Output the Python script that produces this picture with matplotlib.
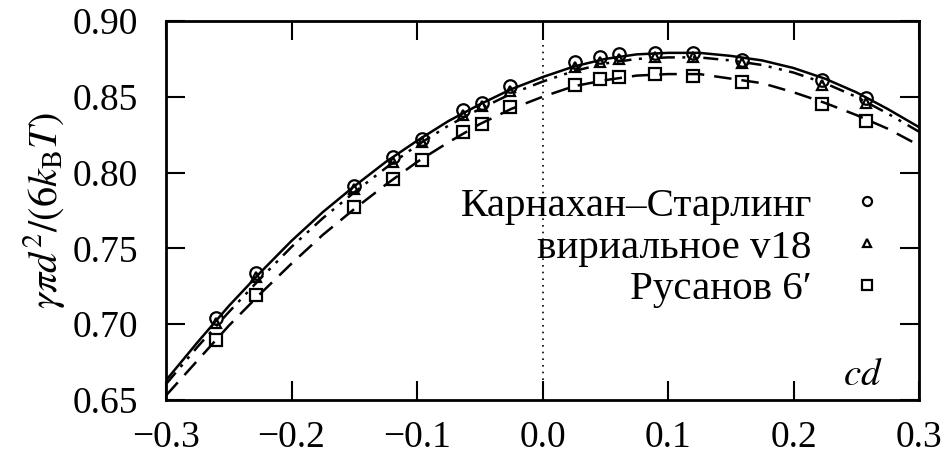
import matplotlib
matplotlib.use("Agg")
import matplotlib.pyplot as plt
from matplotlib.lines import Line2D

plt.rcParams['font.family'] = ['Liberation Serif', 'DejaVu Serif']
plt.rcParams['mathtext.fontset'] = 'stix'

# points
pt_x = [-0.260, -0.228, -0.150, -0.119, -0.096, -0.063, -0.048, -0.026,
        0.026, 0.046, 0.061, 0.090, 0.120, 0.159, 0.223, 0.258]
cs_y = [0.704, 0.734, 0.7915, 0.810, 0.822, 0.841, 0.846, 0.857,
        0.873, 0.876, 0.878, 0.879, 0.879, 0.874, 0.861, 0.849]
vir_y = [0.701, 0.731, 0.789, 0.807, 0.820, 0.838, 0.844, 0.854,
         0.870, 0.873, 0.875, 0.876, 0.876, 0.872, 0.858, 0.846]
rus_y = [0.6895, 0.7195, 0.777, 0.796, 0.8085, 0.827, 0.832, 0.843,
         0.858, 0.8615, 0.863, 0.865, 0.864, 0.860, 0.8455, 0.834]

# curves
cx = [-0.300, -0.275, -0.250, -0.225, -0.200, -0.175, -0.150, -0.125, -0.100,
      -0.075, -0.050, -0.025, 0.000, 0.025, 0.050, 0.075, 0.100, 0.125,
      0.150, 0.175, 0.200, 0.225, 0.250, 0.275, 0.300]
cs_curve = [0.663, 0.688, 0.712, 0.734, 0.755, 0.774, 0.791, 0.807, 0.821,
            0.834, 0.845, 0.855, 0.863, 0.870, 0.875, 0.878, 0.879, 0.879,
            0.877, 0.874, 0.869, 0.862, 0.853, 0.842, 0.830]
vir_curve = [0.6605, 0.685, 0.708, 0.730, 0.751, 0.770, 0.787, 0.803, 0.818,
             0.831, 0.842, 0.852, 0.860, 0.867, 0.872, 0.875, 0.876, 0.876,
             0.874, 0.871, 0.866, 0.859, 0.850, 0.839, 0.827]
rus_curve = [0.653, 0.676, 0.699, 0.720, 0.740, 0.759, 0.776, 0.792, 0.807,
             0.820, 0.832, 0.842, 0.850, 0.857, 0.861, 0.864, 0.865, 0.865,
             0.862, 0.859, 0.853, 0.846, 0.838, 0.829, 0.818]

labels = ['Карнахан–Старлинг', 'вириальное v18', 'Русанов 6′']

fig = plt.figure(figsize=(9.45, 4.59), dpi=100)
ax = fig.add_axes([0.1757, 0.1285, 0.7968, 0.8257])

ax.axvline(0.0, color='black', lw=1.2, ls=(0, (1, 3)))

ax.plot(cx, cs_curve, color='black', lw=1.8, ls='-')
ax.plot(cx, vir_curve, color='black', lw=1.8, ls=(0, (6, 3, 1.2, 3, 1.2, 3)))
ax.plot(cx, rus_curve, color='black', lw=1.8, ls=(0, (7, 4)))

ax.plot(pt_x, cs_y, 'o', ms=9, mfc='none', mec='black', mew=1.6)
ax.plot(pt_x, vir_y, '^', ms=7, mfc='none', mec='black', mew=1.6)
ax.plot(pt_x, rus_y, 's', ms=9, mfc='none', mec='black', mew=1.6)

handles = [Line2D([], [], marker='o', ls='none', ms=6.5, mfc='none', mec='black', mew=1.6),
           Line2D([], [], marker='^', ls='none', ms=6, mfc='none', mec='black', mew=1.6),
           Line2D([], [], marker='s', ls='none', ms=6.5, mfc='none', mec='black', mew=1.6)]
ax.legend(handles, labels, loc='upper right', bbox_to_anchor=(0.98, 0.605),
          markerfirst=False, frameon=False, fontsize=29.5, handletextpad=0.85,
          labelspacing=0.1, handlelength=1.0, borderaxespad=0)

ax.set_xlim(-0.3, 0.3)
ax.set_ylim(0.65, 0.90)
ax.set_xticks([-0.3, -0.2, -0.1, 0.0, 0.1, 0.2, 0.3])
ax.set_yticks([0.65, 0.70, 0.75, 0.80, 0.85, 0.90])
ax.set_xticklabels(['−0.3', '−0.2', '−0.1', '0.0', '0.1', '0.2', '0.3'])
ax.set_yticklabels(['0.65', '0.70', '0.75', '0.80', '0.85', '0.90'])
ax.tick_params(direction='in', length=14, width=1.5, labelsize=27,
               top=True, right=True)
ax.tick_params(axis='y', pad=20)
ax.tick_params(axis='x', pad=15)
for s in ax.spines.values():
    s.set_linewidth(2)

ax.set_ylabel(r'$\gamma\pi d^2/(6k_\mathrm{B}T)$', fontsize=29, labelpad=4)
ax.text(0.2555, 0.666, r'$cd$', fontsize=28, ha='center', va='center')

fig.savefig('out.png', dpi=100)
